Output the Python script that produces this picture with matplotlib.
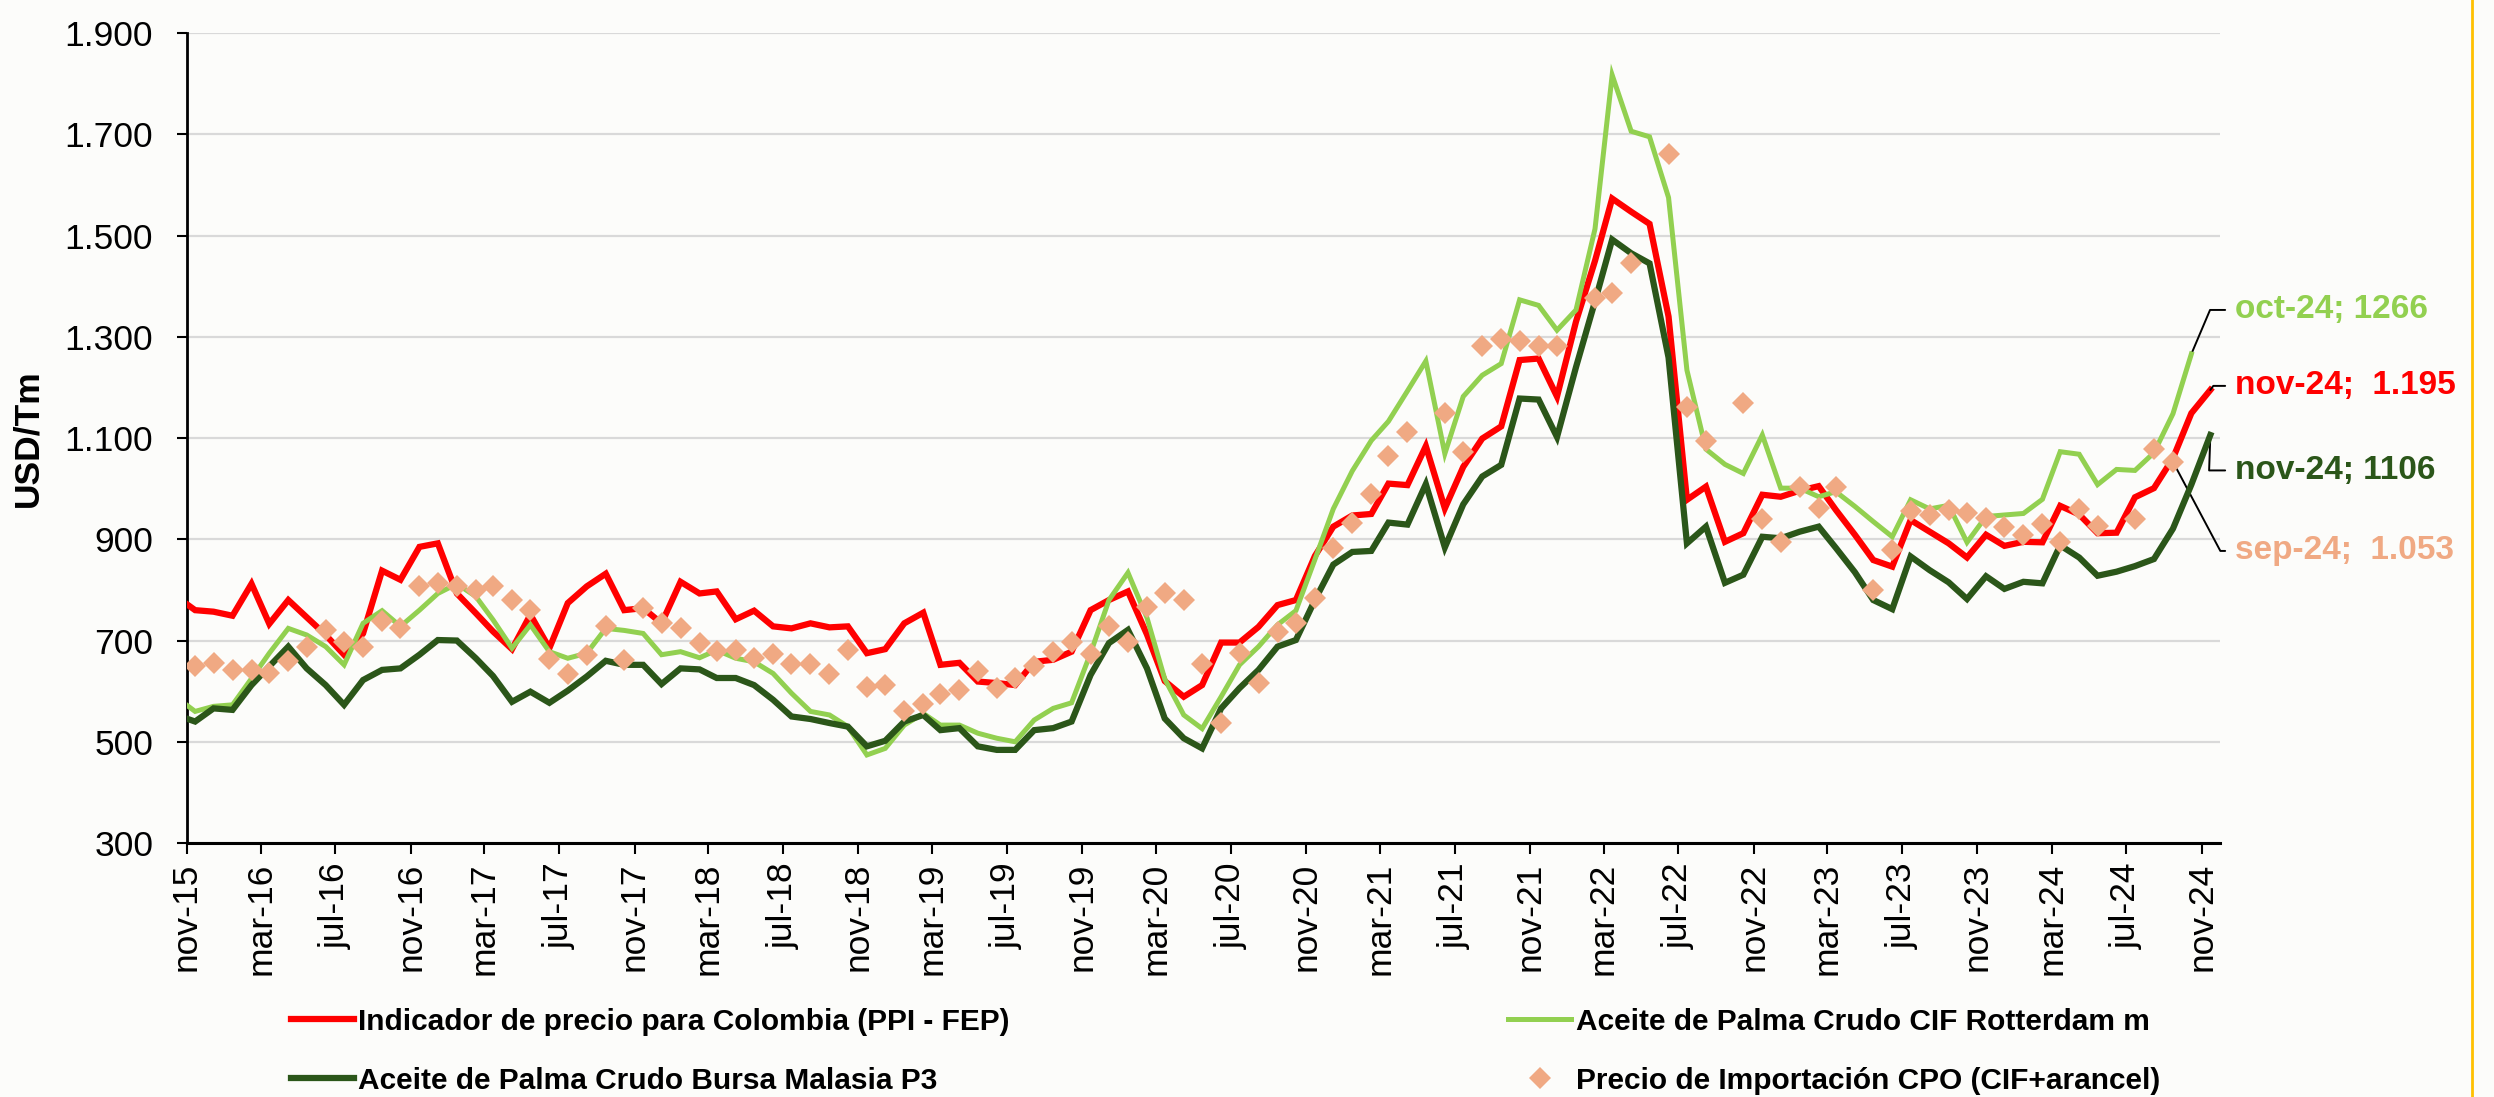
import numpy as np
import pandas as pd
import matplotlib
matplotlib.use('Agg')
import matplotlib.pyplot as plt
from matplotlib.ticker import FuncFormatter
from matplotlib.lines import Line2D

plt.rcParams['font.family'] = ['Liberation Sans', 'DejaVu Sans']

# monthly points oct-15 .. nov-24 (excel date axis puts them mid-month)
meses = pd.date_range('2015-10-01', '2024-11-01', freq='MS') + pd.Timedelta(days=14)

ppi_fep = [787, 760, 757, 749, 812, 733, 780, 746, 711, 672,
           714, 838, 820, 885, 892, 793, 754, 718, 683, 751,
           685, 774, 807, 832, 760, 764, 734, 816, 793, 797,
           742, 759, 728, 724, 734, 726, 728, 675, 683, 734,
           755, 652, 656, 619, 616, 612, 658, 662, 678, 760,
           780, 797, 712, 620, 589, 612, 696, 696, 727, 770,
           780, 867, 925, 947, 950, 1010, 1007, 1084, 961, 1043,
           1099, 1123, 1254, 1257, 1182, 1330, 1450, 1573, 1547, 1523,
           1340, 978, 1004, 895, 912, 988, 984, 996, 1005, 958,
           909, 859, 846, 938, 915, 892, 864, 909, 887, 895,
           894, 966, 949, 912, 913, 983, 1001, 1060, 1149, 1195]

cif_rotterdam = [588, 560, 570, 573, 625, 675, 724, 711, 688, 652,
                 734, 759, 728, 760, 793, 812, 787, 741, 685, 731,
                 678, 665, 675, 724, 720, 714, 672, 678, 666, 681,
                 665, 658, 635, 596, 560, 553, 530, 474, 487, 533,
                 556, 533, 533, 517, 507, 500, 543, 566, 577, 675,
                 780, 834, 745, 624, 553, 526, 589, 652, 688, 731,
                 759, 860, 960, 1035, 1095, 1133, 1193, 1252, 1069, 1182,
                 1224, 1247, 1373, 1362, 1313, 1353, 1513, 1817, 1706, 1695,
                 1575, 1234, 1078, 1048, 1030, 1106, 1001, 1001, 984, 994,
                 965, 935, 905, 978, 960, 967, 894, 945, 948, 951,
                 979, 1073, 1068, 1008, 1038, 1036, 1071, 1148, 1266, np.nan]

bursa_malasia = [553, 540, 566, 563, 612, 649, 688, 645, 612, 573,
                 622, 642, 645, 672, 701, 700, 665, 630, 579, 599,
                 577, 601, 629, 660, 652, 652, 614, 645, 643, 626,
                 626, 612, 583, 550, 545, 537, 530, 491, 502, 540,
                 553, 523, 527, 491, 484, 484, 523, 527, 540, 632,
                 695, 721, 645, 546, 507, 487, 566, 606, 642, 688,
                 701, 780, 850, 875, 877, 933, 929, 1009, 884, 969,
                 1024, 1047, 1178, 1176, 1102, 1240, 1370, 1492, 1465, 1445,
                 1259, 892, 925, 814, 830, 905, 902, 915, 925, 883,
                 835, 780, 762, 866, 839, 815, 782, 827, 802, 816,
                 813, 888, 864, 828, 836, 847, 861, 921, 1008, 1106]

nan = np.nan
import_cpo = [nan, 650, 656, 642, 642, 635, 660, 688, 721, 698,
              688, 739, 724, 808, 813, 808, 799, 807, 780, 760,
              663, 633, 672, 729, 662, 764, 734, 724, 695, 680,
              681, 665, 674, 654, 654, 634, 682, 608, 612, 560,
              574, 594, 602, 639, 607, 626, 650, 678, 697, 674,
              728, 698, 766, 794, 780, 653, 537, 675, 616, 716,
              734, 785, 883, 933, 990, 1065, 1112, nan, 1149, 1073,
              1282, 1296, 1292, 1282, 1282, nan, 1376, 1387, 1445, nan,
              1662, 1162, 1095, nan, 1170, 941, 894, 1004, 961, 1003,
              nan, 799, 879, 955, 948, 958, 951, 942, 924, 909,
              930, 895, 960, 926, nan, 941, 1078, 1053, nan, nan]

series_nombres = ['Indicador de precio para Colombia (PPI - FEP)',
                  'Aceite de Palma Crudo CIF Rotterdam m',
                  'Aceite de Palma Crudo Bursa Malasia P3',
                  'Precio de Importación CPO (CIF+arancel)']

meses_es = ['ene', 'feb', 'mar', 'abr', 'may', 'jun',
            'jul', 'ago', 'sep', 'oct', 'nov', 'dic']
ticks_x = pd.date_range('2015-11-01', '2024-11-01', freq='4MS')
etiquetas_x = ['%s-%02d' % (meses_es[d.month - 1], d.year % 100) for d in ticks_x]
ticks_y = np.arange(300, 1901, 200)

c_rojo = '#FF0000'
c_verde = '#92D050'
c_oscuro = '#2B5619'
c_salmon = '#F0A983'
fondo = '#FCFCFA'

fig = plt.figure(figsize=(24.94, 10.97), dpi=100, facecolor=fondo)
ax = fig.add_axes([0.0748, 0.2315, 0.8154, 0.7384])
ax.set_facecolor(fondo)

l1, = ax.plot(meses, ppi_fep, color=c_rojo, lw=4.5, solid_joinstyle='miter', zorder=3)
l2, = ax.plot(meses, cif_rotterdam, color=c_verde, lw=3.6, solid_joinstyle='miter', zorder=4)
l3, = ax.plot(meses, bursa_malasia, color=c_oscuro, lw=4.5, solid_joinstyle='miter', zorder=5)
l4, = ax.plot(meses, import_cpo, ls='none', marker='D', ms=11, color=c_salmon,
              markeredgewidth=0, zorder=6)

ax.set_xlim(pd.Timestamp('2015-11-01'), pd.Timestamp('2024-12-01'))
ax.set_ylim(300, 1900)
ax.set_xticks(ticks_x)
ax.set_xticklabels(etiquetas_x, rotation=90, ha='center', va='top')
ax.set_yticks(ticks_y)
ax.yaxis.set_major_formatter(FuncFormatter(lambda v, p: ('{:,.0f}'.format(v)).replace(',', '.')))

ax.grid(axis='y', color='#D9D9D9', lw=1.6, zorder=0)
ax.set_axisbelow(True)
for s in ['top', 'right']:
    ax.spines[s].set_visible(False)
ax.spines['left'].set_linewidth(2)
ax.spines['bottom'].set_linewidth(2.2)
ax.tick_params(axis='y', length=7, width=1.5, pad=17, labelsize=25.5)
ax.tick_params(axis='x', length=8, width=1.5, pad=6, labelsize=25.5)

ax.set_ylabel('USD/Tm', fontsize=25.5, fontweight='bold')
ax.yaxis.set_label_coords(-0.07, 0.5)

# end-of-series labels with leader lines
x_txt = pd.Timestamp('2024-12-25')
etiquetas = [
    ('oct-24; 1266', meses[-2], cif_rotterdam[-2], 1353, c_verde, 67),
    ('nov-24;  1.195', meses[-1], ppi_fep[-1], 1203, c_rojo, 54),
    ('nov-24; 1106', meses[-1], bursa_malasia[-1], 1036, c_oscuro, 88),
    ('sep-24;  1.053', meses[-3], import_cpo[-3], 877, c_salmon, -62),
]
for txt, xd, yd, yt, col, ang in etiquetas:
    ax.annotate(txt, xy=(xd, yd), xytext=(x_txt, yt), textcoords='data',
                color=col, fontsize=24, fontweight='bold', ha='left', va='center',
                annotation_clip=False,
                arrowprops=dict(arrowstyle='-', color='black', lw=1.4,
                                shrinkA=5, shrinkB=0, relpos=(0, 0.5),
                                connectionstyle='angle,angleA=0,angleB=%d,rad=0' % ang))

fig.legend(handles=[l1, l3, l2, l4],
           labels=[series_nombres[0], series_nombres[2], series_nombres[1], series_nombres[3]],
           ncol=2, loc='upper left', bbox_to_anchor=(0.1167, 0.0815), frameon=False,
           prop={'weight': 'bold', 'size': 21.5}, handlelength=2.1, handletextpad=0.15,
           columnspacing=16.7, labelspacing=1.05, borderpad=0, borderaxespad=0)

fig.add_artist(Line2D([0.991, 0.991], [0, 1], transform=fig.transFigure,
                      color='#FFC000', lw=2))

fig.savefig('out.png', dpi=100, facecolor=fondo)
